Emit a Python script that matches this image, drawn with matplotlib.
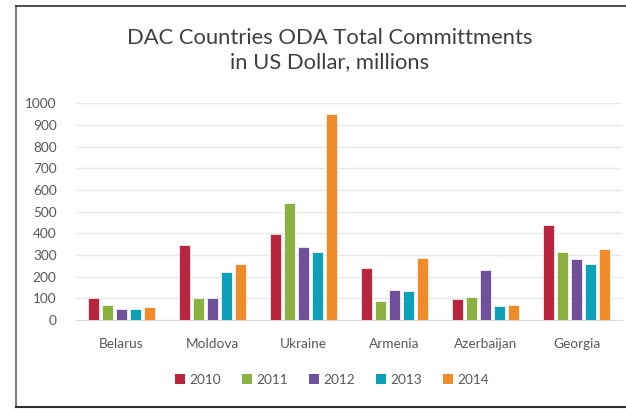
import matplotlib
matplotlib.use("Agg")
import matplotlib.pyplot as plt
import numpy as np
from matplotlib.lines import Line2D
from matplotlib.patches import Patch

plt.rcParams['font.family'] = ['Lato', 'DejaVu Sans']

countries = ["Belarus", "Moldova", "Ukraine", "Armenia", "Azerbaijan", "Georgia"]
years = ["2010", "2011", "2012", "2013", "2014"]
v2010 = [100, 344, 397, 242, 97, 439]
v2011 = [69, 103, 538, 86, 107, 316]
v2012 = [49, 100, 339, 140, 229, 282]
v2013 = [49, 221, 316, 135, 64, 259]
v2014 = [61, 259, 949, 288, 69, 328]
series = [v2010, v2011, v2012, v2013, v2014]
colors = ["#B8263D", "#8AB141", "#70509A", "#0EA0B9", "#EF8B28"]
yticks = [0, 100, 200, 300, 400, 500, 600, 700, 800, 900, 1000]

fig = plt.figure(figsize=(6.26, 4.09), dpi=100)
ax = fig.add_axes([76/626, 1-320/409, 546/626, (320-103.3)/409])

x = np.arange(len(countries))
step = 0.154
width = 0.122
for i, (vals, c, yr) in enumerate(zip(series, colors, years)):
    ax.bar(x + (i - 2) * step, vals, width, color=c, edgecolor='white', linewidth=0.5, label=yr, zorder=3)

ax.set_xlim(-0.5, len(countries) - 0.5)
ax.set_ylim(0, 1000)
ax.set_yticks(yticks)
ax.set_yticklabels([str(t) for t in yticks], fontsize=9.8, color="#595959")
ax.set_xticks(x)
ax.set_xticklabels(countries, fontsize=9.8, color="#595959")
ax.tick_params(axis='both', length=0)
ax.tick_params(axis='y', pad=14)
ax.tick_params(axis='x', pad=13)
ax.grid(axis='y', color='#E8E8E8', linewidth=1, zorder=0)
for s in ['top', 'right', 'left']:
    ax.spines[s].set_visible(False)
ax.spines['bottom'].set_color('#DADADA')

fig.text(330/626, 1-38/409, "DAC Countries ODA Total Committments", ha='center', va='center',
         fontsize=15.8, color="#404040")
fig.text(330/626, 1-62/409, "in US Dollar, millions", ha='center', va='center',
         fontsize=15.8, color="#404040")

handles = [Patch(facecolor=c, edgecolor='none') for c in colors]
fig.legend(handles, years, loc='center', bbox_to_anchor=(332/626, 1-380/409), ncol=5,
           frameon=False, fontsize=9.8, handlelength=0.7, handleheight=0.7,
           handletextpad=0.3, columnspacing=1.6, labelcolor="#595959")

# frame lines
fig.add_artist(Line2D([16/626, 16/626], [1-6/409, 1-407/409], color='#808080', linewidth=1.5, transform=fig.transFigure))
fig.add_artist(Line2D([16/626, 1], [1-6/409, 1-6/409], color='#303030', linewidth=1.2, transform=fig.transFigure))
fig.add_artist(Line2D([16/626, 1], [1-407/409, 1-407/409], color='#303030', linewidth=1.5, transform=fig.transFigure))

fig.savefig("out.png", dpi=100, facecolor='white')
